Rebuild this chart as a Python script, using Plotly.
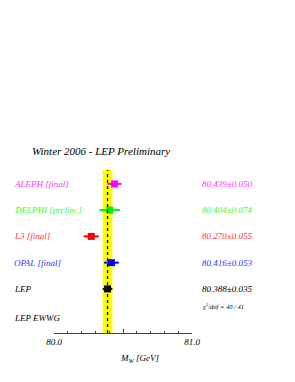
import plotly.graph_objects as go

experiments = ["ALEPH [final]", "DELPHI [prelim.]", "L3 [final]", "OPAL [final]", "LEP"]
mw_values = [80.439, 80.404, 80.270, 80.416, 80.388]
mw_errors = [0.050, 0.074, 0.055, 0.053, 0.035]
value_labels = ["80.439±0.050", "80.404±0.074", "80.270±0.055", "80.416±0.053", "80.388±0.035"]
row_pos = [5, 4, 3, 2, 1]
colors = ["#ff00ff", "#00ee00", "#ff0000", "#0000ff", "#000000"]
text_colors = ["#ff33ff", "#33ff33", "#ff3333", "#3333ff", "#000000"]
lep_mean = 80.388
lep_err = 0.035
chi2_text = "χ<sup>2</sup>/dof = 40 / 41"

FONT = "Liberation Serif"

fig = go.Figure()

# yellow band for LEP average
fig.add_shape(type="rect", xref="x", yref="paper",
              x0=lep_mean - lep_err, x1=lep_mean + lep_err, y0=0, y1=1,
              fillcolor="#ffff00", line=dict(width=0), layer="below")
fig.add_shape(type="line", xref="x", yref="paper",
              x0=lep_mean, x1=lep_mean, y0=0, y1=1,
              line=dict(color="black", width=1.3, dash="dot"))

for i in range(len(experiments)):
    fig.add_trace(go.Scatter(
        x=[mw_values[i]], y=[row_pos[i]], mode="markers",
        marker=dict(symbol="square", size=7, color=colors[i]),
        error_x=dict(type="data", array=[mw_errors[i]], color=colors[i],
                     thickness=2, width=0),
        showlegend=False, hoverinfo="skip", cliponaxis=False))
    fig.add_annotation(x=-0.305, xref="paper", y=row_pos[i], yref="y",
                       text="<i>" + experiments[i] + "</i>", showarrow=False,
                       xanchor="left", yanchor="middle",
                       font=dict(family=FONT, size=9, color=text_colors[i]))
    fig.add_annotation(x=1.058, xref="paper", y=row_pos[i], yref="y",
                       text="<i>" + value_labels[i] + "</i>", showarrow=False,
                       xanchor="left", yanchor="middle",
                       font=dict(family=FONT, size=9, color=text_colors[i]))

fig.add_annotation(x=1.058, xref="paper", y=0.36, yref="y",
                   text="<i>" + chi2_text + "</i>", showarrow=False,
                   xanchor="left", yanchor="middle",
                   font=dict(family=FONT, size=6.5, color="black"))
fig.add_annotation(x=-0.305, xref="paper", y=-0.1, yref="y",
                   text="<i>LEP EWWG</i>", showarrow=False,
                   xanchor="left", yanchor="middle",
                   font=dict(family=FONT, size=9, color="black"))
fig.add_annotation(x=-0.175, xref="paper", y=1.117, yref="paper",
                   text="<i>Winter 2006 - LEP Preliminary</i>", showarrow=False,
                   xanchor="left", yanchor="middle",
                   font=dict(family=FONT, size=11, color="black"))
fig.add_annotation(x=0.62, xref="paper", y=-0.155, yref="paper",
                   text="<i>M<sub>W</sub> [GeV]</i>", showarrow=False,
                   xanchor="center", yanchor="middle",
                   font=dict(family=FONT, size=9, color="black"))

fig.update_xaxes(range=[80.0, 81.0], showgrid=False, zeroline=False,
                 showline=True, linecolor="#444444", linewidth=1.2,
                 tickmode="array", tickvals=[80.0, 80.5, 81.0],
                 ticktext=["<i>80.0</i>", " ", "<i>81.0</i>"],
                 ticks="inside", ticklen=4, tickwidth=1.2, tickcolor="#444444",
                 minor=dict(tickmode="linear", tick0=80.0, dtick=0.1,
                            ticks="inside", ticklen=2, tickwidth=1.2,
                            tickcolor="#444444", showgrid=False),
                 tickfont=dict(family=FONT, size=9, color="black"),
                 fixedrange=True)
fig.update_yaxes(range=[-0.68, 5.53], visible=False, fixedrange=True)

fig.update_layout(width=295, height=382,
                  margin=dict(l=46, r=111, t=162, b=57),
                  plot_bgcolor="white", paper_bgcolor="white",
                  showlegend=False)

fig.write_html("out.html")
